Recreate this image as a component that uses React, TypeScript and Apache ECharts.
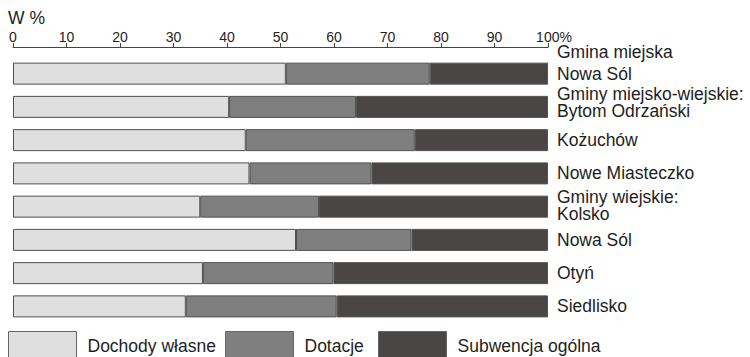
import React, { useEffect, useRef } from "react";
import * as echarts from "echarts";

const categories = [
  "Nowa Sól",
  "Bytom Odrzański",
  "Kożuchów",
  "Nowe Miasteczko",
  "Kolsko",
  "Nowa Sól",
  "Otyń",
  "Siedlisko",
];
const groupHeaders = [
  "Gmina miejska",
  "Gminy miejsko-wiejskie:",
  "",
  "",
  "Gminy wiejskie:",
  "",
  "",
  "",
];
const seriesNames = ["Dochody własne", "Dotacje", "Subwencja ogólna"];
const dochodyWlasne = [51.0, 40.4, 43.5, 44.2, 35.0, 52.9, 35.5, 32.3];
const dotacje = [26.9, 23.7, 31.6, 22.8, 22.2, 21.6, 24.4, 28.2];
const subwencja = [22.1, 35.9, 24.9, 33.0, 42.8, 25.5, 40.1, 39.5];
const axisTicks = [0, 10, 20, 30, 40, 50, 60, 70, 80, 90, 100];

const FONT = "'Liberation Sans', Arial, Helvetica, sans-serif";
const TEXT = "#1e1e1e";
const colors = ["#dfdfdf", "#7f7f7f", "#4a4645"];
const LBL = 17.5;

export default function App() {
  const ref = useRef<HTMLDivElement>(null);

  useEffect(() => {
    if (!ref.current) return;
    const chart = echarts.init(ref.current, undefined, { renderer: "svg" });
    const values = [dochodyWlasne, dotacje, subwencja];
    const spacerKey = ["sp0", "sp1", "", "", "sp4", "", "", ""];
    const headerKey = ["h0", "h", "", "", "h", "", "", ""];

    const option: echarts.EChartsOption = {
      animation: false,
      backgroundColor: "#ffffff",
      textStyle: { fontFamily: FONT },
      title: {
        text: "W %",
        left: 8,
        top: 9,
        padding: 0,
        textStyle: { fontSize: 17.5, fontWeight: "normal", color: TEXT, fontFamily: FONT },
      },
      grid: { left: 13, right: 202, top: 57, bottom: 34, containLabel: false },
      legend: seriesNames.map((name, i) => ({
        data: [name],
        left: [8, 225, 378][i],
        top: 331,
        padding: 0,
        icon: "rect",
        itemWidth: 68,
        itemHeight: 28,
        itemStyle: { borderColor: "#666", borderWidth: 1 },
        textStyle: { fontSize: 17.5, color: TEXT, fontFamily: FONT, padding: [0, 0, 0, 6] },
        selectedMode: false,
      })),
      xAxis: {
        type: "value",
        position: "top",
        offset: 10,
        min: 0,
        max: 100,
        interval: 10,
        axisLine: { show: true, lineStyle: { color: "#444", width: 1 } },
        axisTick: { show: true, length: 4, lineStyle: { color: "#444" } },
        splitLine: { show: false },
        axisLabel: {
          margin: 3,
          fontSize: 14,
          color: TEXT,
          fontFamily: FONT,
          showMinLabel: true,
          showMaxLabel: true,
          formatter: (v: number) =>
            v === axisTicks[axisTicks.length - 1] ? `{last|${v}%}` : `${v}`,
          rich: {
            last: { fontSize: 14, color: TEXT, fontFamily: FONT, padding: [0, 0, 0, 12] },
          },
        },
      },
      yAxis: {
        type: "category",
        data: categories,
        inverse: true,
        position: "right",
        axisLine: { show: false },
        axisTick: { show: false },
        axisLabel: {
          margin: 9,
          align: "left",
          interval: 0,
          showMinLabel: true,
          showMaxLabel: true,
          hideOverlap: false,
          fontSize: LBL,
          color: TEXT,
          fontFamily: FONT,
          formatter: (v: string, i: number) => {
            const h = groupHeaders[i];
            if (!h) return `{n|${v}}`;
            return `{${headerKey[i]}|${h}}\n{n|${v}}\n{${spacerKey[i]}| }`;
          },
          rich: {
            n: { fontSize: LBL, lineHeight: 17, color: TEXT, fontFamily: FONT },
            h: { fontSize: LBL, lineHeight: 17, color: TEXT, fontFamily: FONT },
            h0: { fontSize: LBL, lineHeight: 26, color: TEXT, fontFamily: FONT },
            sp0: { fontSize: 1, lineHeight: 26 },
            sp1: { fontSize: 1, lineHeight: 8 },
            sp4: { fontSize: 1, lineHeight: 3 },
          },
        },
      },
      series: seriesNames.map((name, i) => ({
        name,
        type: "bar",
        stack: "total",
        barWidth: 22,
        data: values[i],
        itemStyle: { color: colors[i], borderColor: "#505050", borderWidth: 1 },
        emphasis: { disabled: true },
      })),
    };
    chart.setOption(option);
    return () => chart.dispose();
  }, []);

  return (
    <div
      ref={ref}
      style={{ position: "fixed", left: 0, top: 0, width: 750, height: 357, background: "#fff" }}
    />
  );
}
